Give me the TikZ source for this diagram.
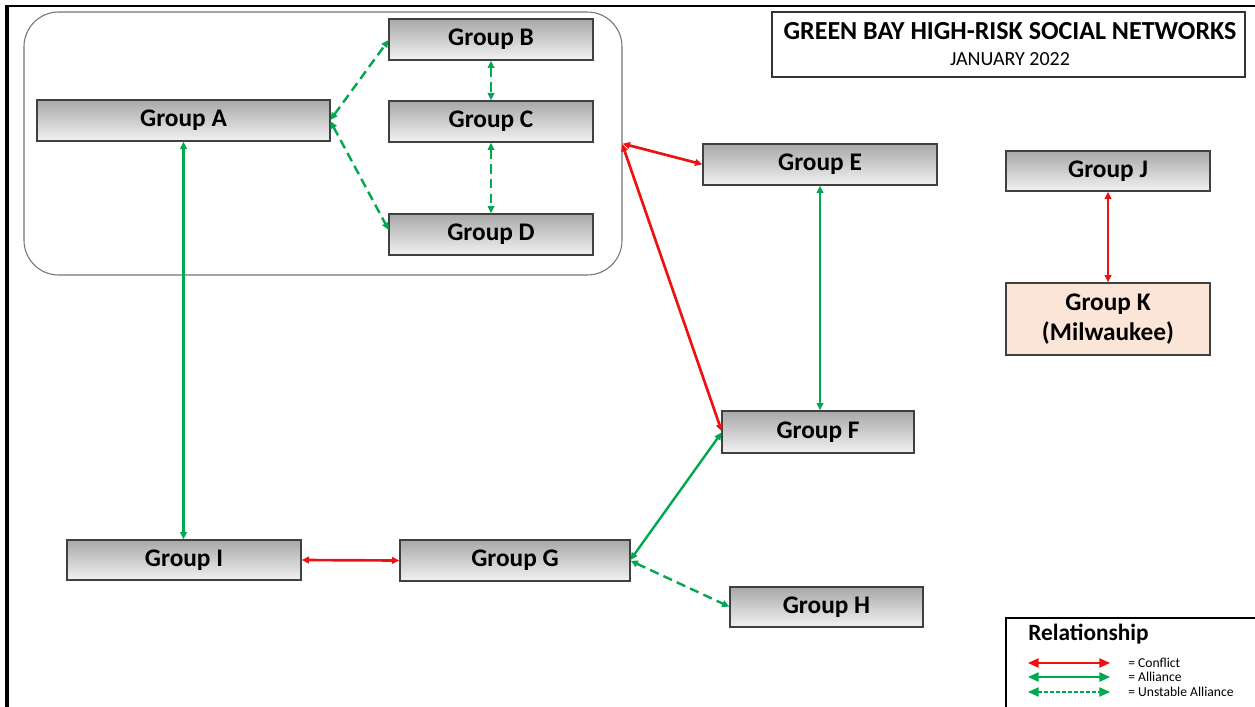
\documentclass[tikz,border=0pt]{standalone}
\usepackage{fontspec}
\setmainfont{Carlito}
\usetikzlibrary{arrows.meta}
\definecolor{agreen}{HTML}{00A850}
\definecolor{cred}{HTML}{EE1111}
\definecolor{gtop}{HTML}{A8A8A8}
\definecolor{gbot}{HTML}{F2F2F2}
\definecolor{peach}{HTML}{FBE5D6}
\tikzset{
  grp/.style={draw=black!75, line width=0.9pt, top color=gtop, bottom color=gbot,
    inner sep=0pt, outer sep=0pt, font=\fontsize{19}{22}\selectfont\bfseries,
    minimum height=30.75pt, align=center},
  rel/.style={line width=1.8pt, {Triangle[length=5.5pt,width=5pt]}-{Triangle[length=5.5pt,width=5pt]}, shorten <=0.5pt, shorten >=0.5pt},
  conflict/.style={rel, draw=cred, line width=2pt},
  alliance/.style={rel, draw=agreen},
  unstable/.style={rel, draw=agreen, dash pattern=on 7pt off 4pt},
  legtip/.style={line width=1.2pt, {Triangle[length=8pt,width=7pt]}-{Triangle[length=8pt,width=7pt]}},
}
\begin{document}
\begin{tikzpicture}[x=0.75pt,y=-0.75pt]
\useasboundingbox (0,0) rectangle (1255,706);
% frame
\draw[line width=1.6pt] (6,6) -- (1260,6);
\draw[line width=2.4pt] (7,5) -- (7,710);
% container
\node[draw=black!55, line width=0.8pt, rounded corners=26pt, minimum width=448.5pt, minimum height=197.25pt, inner sep=0pt, outer sep=0pt] (box) at (323,143.5) {};
% title
\node[draw=black!80, line width=0.9pt, minimum width=354.75pt, minimum height=48.75pt, inner sep=0pt] (title) at (1008.5,44.5) {};
\node[font=\fontsize{19.5}{22}\selectfont\bfseries, inner sep=0pt] (t1) at (1010,31) {GREEN BAY HIGH-RISK SOCIAL NETWORKS};
\node[font=\fontsize{15}{17}\selectfont, inner sep=0pt] (t2) at (1010,59) {JANUARY 2022};
% groups
\node[grp, minimum width=153pt] (B) at (491,39.5) {Group B};
\node[grp, minimum width=219.75pt] (A) at (183.5,120.5) {Group A};
\node[grp, minimum width=153pt] (C) at (491,121.5) {Group C};
\node[grp, minimum width=153pt] (D) at (491,234.5) {Group D};
\node[grp, minimum width=175.5pt] (E) at (820,164.5) {Group E};
\node[grp, minimum width=153pt, minimum height=30pt] (J) at (1108,171) {Group J};
\node[grp, minimum width=153pt, minimum height=54pt, top color=peach, bottom color=peach, fill=peach] (K) at (1108,319) {Group K\\(Milwaukee)};
\node[grp, minimum width=144pt, minimum height=31.5pt] (F) at (818,432) {Group F};
\node[grp, minimum width=175.5pt, minimum height=30pt] (I) at (184,560) {Group I};
\node[grp, minimum width=172.5pt] (G) at (515,560.5) {Group G};
\node[grp, minimum width=144.75pt, minimum height=30pt] (H) at (826.5,607) {Group H};
% connectors
\draw[unstable] (A.east) -- (B.west);
\draw[unstable] (A.east) -- ([yshift=3pt]D.west);
\draw[unstable] (B.south) -- (C.north);
\draw[unstable] (C.south) -- (D.north);
\draw[alliance] (A.south) -- (I.north -| A.south);
\draw[conflict] (box.east) -- (E.west);
\draw[conflict] (box.east) -- (F.west);
\draw[alliance] (E.south) -- (F.north -| E.south);
\draw[alliance] (F.west) -- (G.east);
\draw[unstable] (G.east) -- (H.west);
\draw[conflict] (I.east) -- (G.west);
\draw[conflict] (J.south) -- (K.north);
% legend
\node[draw=black, line width=1.6pt, minimum width=195pt, minimum height=75pt, inner sep=0pt, anchor=north west] (leg) at (1005,617) {};
\node[anchor=west, font=\fontsize{17.5}{20}\selectfont\bfseries, inner sep=0pt] (legt) at (1028,634) {Relationship};
\coordinate (l1a) at (1028,663); \coordinate (l1b) at (1110,663);
\coordinate (l2a) at (1028,677); \coordinate (l2b) at (1110,677);
\coordinate (l3a) at (1028,692); \coordinate (l3b) at (1110,692);
\draw[legtip, draw=cred, fill=cred] (l1a) -- (l1b);
\draw[legtip, draw=agreen, fill=agreen] (l2a) -- (l2b);
\draw[line width=0.8pt, draw=agreen, dash pattern=on 2.5pt off 2pt, {Triangle[length=8pt,width=7pt,fill=agreen]}-{Triangle[length=8pt,width=7pt,fill=agreen]}] (l3a) -- (l3b);
\node[anchor=west, font=\fontsize{10.2}{11}\selectfont, inner sep=0pt] (n1) at (1128,663) {= Conflict};
\node[anchor=west, font=\fontsize{10.2}{11}\selectfont, inner sep=0pt] (n2) at (1128,677) {= Alliance};
\node[anchor=west, font=\fontsize{10.2}{11}\selectfont, inner sep=0pt] (n3) at (1128,692) {= Unstable Alliance};
\end{tikzpicture}
\end{document}
